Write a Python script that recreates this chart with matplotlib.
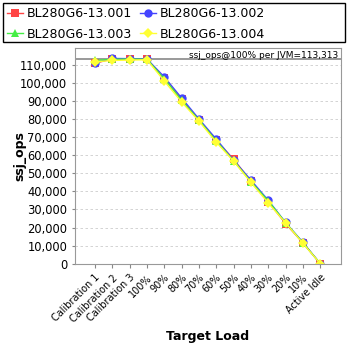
import matplotlib
matplotlib.use("Agg")
import matplotlib.pyplot as plt
from matplotlib.patches import Rectangle
from matplotlib.ticker import FuncFormatter

loads = ["Calibration 1", "Calibration 2", "Calibration 3", "100%", "90%", "80%",
         "70%", "60%", "50%", "40%", "30%", "20%", "10%", "Active Idle"]
names = ["BL280G6-13.001", "BL280G6-13.002", "BL280G6-13.003", "BL280G6-13.004"]
s001 = [111000, 113500, 113300, 113313, 102800, 91000, 79700, 68300, 57900, 45600, 34300, 22200, 11500, 0]
s002 = [111300, 113700, 113600, 113400, 103500, 91800, 80200, 69000, 57300, 46300, 35100, 22800, 11800, 0]
s003 = [112600, 113200, 113400, 113200, 102500, 90500, 79500, 68000, 57000, 45400, 34800, 22700, 11600, 0]
s004 = [111800, 112600, 112800, 113000, 101200, 89600, 79000, 67300, 56800, 45000, 33600, 22600, 11300, 0]
ref_value = 113313

colors = ["#ff4444", "#4444ff", "#44ee44", "#ffff33"]
markers = ["s", "o", "^", "D"]

fig = plt.figure(figsize=(3.48, 3.48), dpi=100)
ax = fig.add_axes([75/348, 1 - 263.6/348, 266/348, (263.6-48)/348])

x = list(range(len(loads)))
lines = []
for s, n, c, m in zip([s001, s002, s003, s004], names, colors, markers):
    ms = 6 if m != "D" else 5.5
    ln, = ax.plot(x, s, color=c, marker=m, markersize=ms, linewidth=1, label=n,
                  markeredgewidth=0)
    lines.append(ln)

ax.axhline(ref_value, color="#888888", linewidth=1.2, zorder=1)
ax.text(0.99, 0.985, "ssj_ops@100% per JVM=113,313", transform=ax.transAxes,
        ha="right", va="top", fontsize=6.5)

ax.set_xlim(-1.15, len(loads) - 1 + 1.2)
ax.set_ylim(0, 119500)
ax.set_yticks(range(0, 110001, 10000))
ax.yaxis.set_major_formatter(FuncFormatter(lambda v, p: f"{int(v):,}"))
ax.set_xticks(x)
ax.set_xticklabels(loads, rotation=45, ha="right", rotation_mode="anchor", fontsize=7)
ax.tick_params(axis="y", labelsize=8.3, length=2, color="#888888")
ax.tick_params(axis="x", length=3, color="#888888")
ax.grid(axis="y", color="#cccccc", linestyle=(0, (3, 3)), linewidth=0.6)
ax.set_axisbelow(True)
for sp in ax.spines.values():
    sp.set_color("#999999")

ax.set_ylabel("ssj_ops", fontsize=9, fontweight="bold")
ax.yaxis.set_label_coords(-49/266, 0.5)
ax.set_xlabel("Target Load", fontsize=9, fontweight="bold")

# legend: row-wise order 001 002 / 003 004
order = [0, 2, 1, 3]
leg = fig.legend([lines[i] for i in order], [names[i] for i in order],
                 loc="upper left", bbox_to_anchor=(-3/348, 1 + 3/348), ncol=2,
                 fontsize=9, frameon=False, handlelength=1.3, handletextpad=0.3,
                 columnspacing=0.6, borderpad=0.3, labelspacing=0.6)
fig.patches.append(Rectangle((3/348, 1 - 42/348), 342/348, 39/348,
                             transform=fig.transFigure, fill=False,
                             edgecolor="black", linewidth=1))

fig.savefig("out.png", dpi=100)
